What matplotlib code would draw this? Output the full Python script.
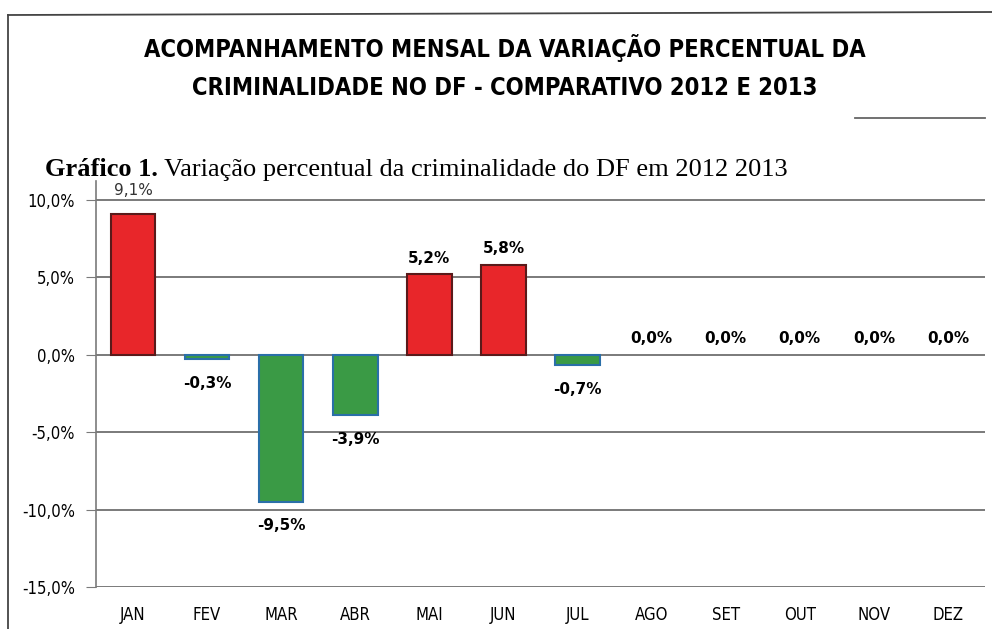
import matplotlib
matplotlib.use("Agg")
import matplotlib.pyplot as plt
from matplotlib.lines import Line2D
from matplotlib.ticker import FuncFormatter

months = ["JAN", "FEV", "MAR", "ABR", "MAI", "JUN", "JUL", "AGO", "SET", "OUT", "NOV", "DEZ"]
values = [9.1, -0.3, -9.5, -3.9, 5.2, 5.8, -0.7, 0.0, 0.0, 0.0, 0.0, 0.0]
yticks = [-15, -10, -5, 0, 5, 10]

title = "ACOMPANHAMENTO MENSAL DA VARIAÇÃO PERCENTUAL DA\nCRIMINALIDADE NO DF - COMPARATIVO 2012 E 2013"
subtitle_bold = "Gráfico 1."
subtitle_rest = " Variação percentual da criminalidade do DF em 2012 2013"

def fmt(v):
    return f"{v:.1f}".replace(".", ",") + "%"

fig = plt.figure(figsize=(9.92, 6.29), dpi=100)
fig.patch.set_facecolor("white")

ax = fig.add_axes([96/992, 42/629, (985-96)/992, (448-42)/629])
x = list(range(len(months)))
colors = ["#E8262A" if v > 0 else "#3A9A45" for v in values]
edges = ["#5A1A1A" if v > 0 else "#2A6FA8" for v in values]
lws = [1.5 if v != 0 else 0 for v in values]
ax.bar(x, values, width=0.6, color=colors, edgecolor=edges, linewidth=lws, zorder=3)

ax.set_xlim(-0.5, 11.5)
ax.set_ylim(-15, 11.2)
ax.set_yticks(yticks)
ax.yaxis.set_major_formatter(FuncFormatter(lambda v, p: fmt(v)))
ax.set_xticks(x)
ax.set_xticklabels(months)
ax.grid(axis="y", color="#7a7a7a", linewidth=1.4, zorder=0)
for s in ["top", "right", "bottom"]:
    ax.spines[s].set_visible(False)
ax.spines["left"].set_color("#7a7a7a")
ax.spines["left"].set_linewidth(1.2)
ax.tick_params(axis="y", length=7, color="#7a7a7a", labelsize=12, pad=8)
ax.tick_params(axis="x", length=0, labelsize=12, pad=14)
for lab in ax.get_xticklabels() + ax.get_yticklabels():
    lab.set_fontstretch("condensed")

for i, v in enumerate(values):
    if v > 0:
        ax.annotate(fmt(v), (i, v), xytext=(0, 6 if i else 11), textcoords="offset points",
                    ha="center", va="bottom", fontsize=11,
                    fontweight="normal" if i == 0 else "bold", color="#333333" if i == 0 else "black")
    elif v < 0:
        ax.annotate(fmt(v), (i, v), xytext=(0, -12), textcoords="offset points",
                    ha="center", va="top", fontsize=11, fontweight="bold")
    else:
        ax.annotate(fmt(v), (i, v), xytext=(0, 6), textcoords="offset points",
                    ha="center", va="bottom", fontsize=11, fontweight="bold")

# outer frame lines
fig.add_artist(Line2D([8/992, 8/992], [0, 1 - 15/629], color="#444444", linewidth=1.3))
fig.add_artist(Line2D([8/992, 1.0], [1 - 15/629, 1 - 12/629], color="#444444", linewidth=1.3))
# chart area top border remnant
fig.add_artist(Line2D([855/992, 985/992], [1 - 118/629, 1 - 118/629], color="#666666", linewidth=1.3))

fig.text(505/992, 1 - 67/629, title, ha="center", va="center", fontsize=17,
         fontweight="bold", fontstretch="condensed", linespacing=1.75)

t1 = fig.text(45/992, 1 - 170/629, subtitle_bold, ha="left", va="center", fontsize=19,
              fontweight="bold", family="Liberation Serif")
fig.canvas.draw()
bb = t1.get_window_extent()
fig.text(bb.x1/992, 1 - 170/629, subtitle_rest, ha="left", va="center", fontsize=19,
         family="Liberation Serif")

fig.savefig("out.png", dpi=100, facecolor="white")
